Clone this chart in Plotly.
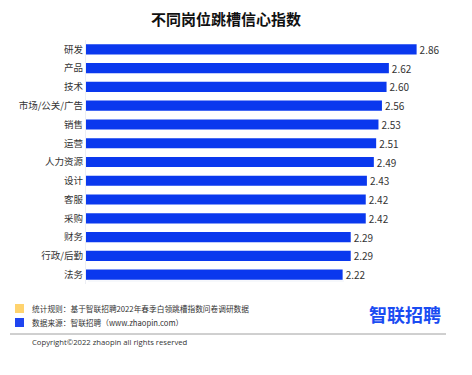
import plotly.graph_objects as go

categories = ["研发", "产品", "技术", "市场/公关/广告", "销售", "运营", "人力资源",
              "设计", "客服", "采购", "财务", "行政/后勤", "法务"]
values = [2.86, 2.62, 2.60, 2.56, 2.53, 2.51, 2.49, 2.43, 2.42, 2.42, 2.29, 2.29, 2.22]
value_labels = [f"{v:.2f}" for v in values]

title_text = "不同岗位跳槽信心指数"
note_rule = "统计规则：基于智联招聘2022年春季白领跳槽指数问卷调研数据"
note_source = "数据来源：智联招聘（www.zhaopin.com）"
logo_text = "智联招聘"
copyright_text = "Copyright©2022 zhaopin all rights reserved"

OFF = 8  # page body margin
W, H = 472 - OFF, 375 - OFF
L, R, T, B = 78, 22, 32, 91
PW, PH = W - L - R, H - T - B

def px(x):
    return (x - OFF - L) / PW

def py(y):
    return (H - B - (y - OFF)) / PH

FONT = "Noto Sans CJK SC, Microsoft YaHei, sans-serif"
BLUE = "#0a38ee"

fig = go.Figure(go.Bar(
    x=values, y=categories, orientation="h",
    marker=dict(color=BLUE, line=dict(width=0)),
    width=0.54,
    text=value_labels, textposition="outside", constraintext="none",
    textfont=dict(size=10, color="#333333", family=FONT),
    cliponaxis=False,
))

fig.update_layout(
    width=W, height=H,
    margin=dict(l=L, r=R, t=T, b=B),
    paper_bgcolor="white", plot_bgcolor="white",
    showlegend=False,
    font=dict(family=FONT, color="#333333"),
    xaxis=dict(range=[0, PW / 115.6], visible=False, showgrid=False, zeroline=False),
    yaxis=dict(categoryorder="array", categoryarray=categories[::-1],
               tickfont=dict(size=9.5, color="#333333", family=FONT),
               showline=True, linecolor="#eceef4", linewidth=1,
               ticks="", ticklen=0, showgrid=False),
)

annotations = [
    dict(text=f"<b>{title_text}</b>", x=px(226), y=py(18), xref="paper", yref="paper",
         showarrow=False, xanchor="center", yanchor="middle",
         font=dict(size=15, color="#111111", family=FONT)),
    dict(text=note_rule, x=px(30), y=py(308.5), xref="paper", yref="paper",
         showarrow=False, xanchor="left", yanchor="middle",
         font=dict(size=7.7, color="#333333", family=FONT)),
    dict(text=note_source, x=px(30), y=py(322.5), xref="paper", yref="paper",
         showarrow=False, xanchor="left", yanchor="middle",
         font=dict(size=7.7, color="#333333", family=FONT)),
    dict(text=f"<b>{logo_text}</b>", x=px(405), y=py(314), xref="paper", yref="paper",
         showarrow=False, xanchor="center", yanchor="middle",
         font=dict(size=18, color="#1a4cf2", family=FONT)),
    dict(text=copyright_text, x=px(30), y=py(342), xref="paper", yref="paper",
         showarrow=False, xanchor="left", yanchor="middle",
         font=dict(size=7.7, color="#333333", family="Open Sans, sans-serif")),
]
fig.update_layout(annotations=annotations)

shapes = [
    dict(type="rect", xref="paper", yref="paper", x0=px(15), x1=px(24), y0=py(304), y1=py(313),
         fillcolor="#ffd36e", line=dict(width=0)),
    dict(type="rect", xref="paper", yref="paper", x0=px(15), x1=px(24), y0=py(318), y1=py(327),
         fillcolor="#1f45f0", line=dict(width=0)),
    dict(type="line", xref="paper", yref="paper", x0=px(10), x1=px(446), y0=py(334), y1=py(334),
         line=dict(color="#a0a0a0", width=1)),
    dict(type="line", xref="paper", yref="paper", x0=px(88), x1=px(344), y0=py(281), y1=py(281),
         line=dict(color="#eef1f8", width=1)),
]
fig.update_layout(shapes=shapes)

fig.write_html("out.html")
